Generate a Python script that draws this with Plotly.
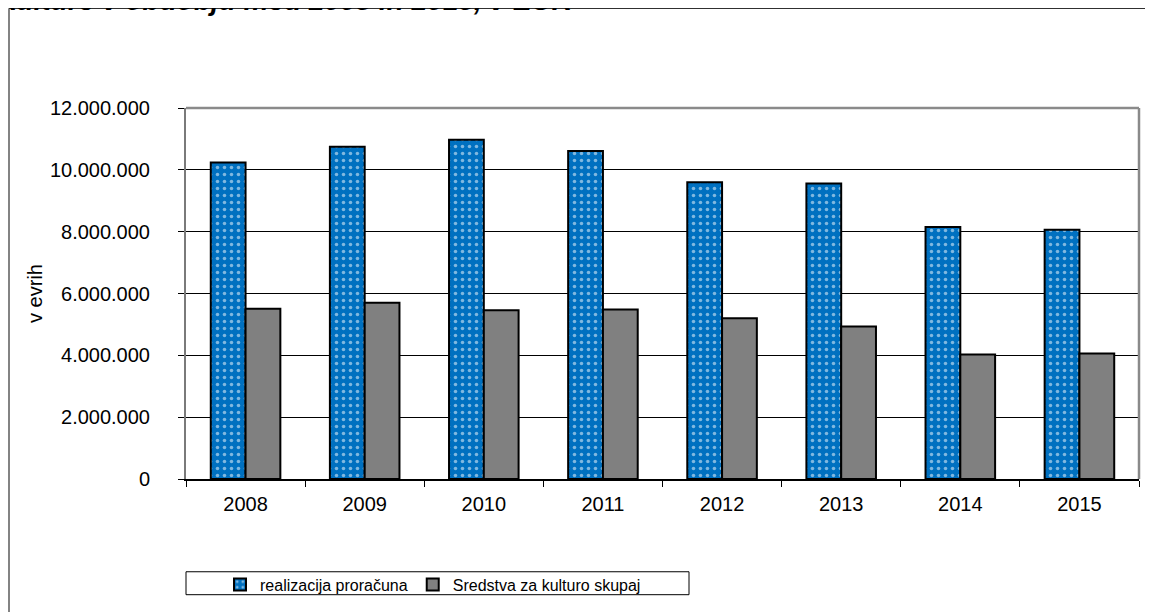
import plotly.graph_objects as go

years = ["2008", "2009", "2010", "2011", "2012", "2013", "2014", "2015"]
realizacija = [10240000, 10750000, 10970000, 10610000, 9600000, 9560000, 8150000, 8060000]
sredstva = [5510000, 5700000, 5460000, 5480000, 5200000, 4930000, 4030000, 4060000]
series_names = ["realizacija proračuna", "Sredstva za kulturo skupaj"]
y_ticks = [0, 2000000, 4000000, 6000000, 8000000, 10000000, 12000000]
title_text = "kulture v obdobju med 2008 in 2015, v EUR"
y_title = "v evrih"

# the page body has an 8px margin, so the figure starts at (8, 8) in the window
OFF = 8
WIN_W, WIN_H = 1153, 612
W, H = WIN_W - OFF, WIN_H - OFF
# target plot area in window pixels
PL, PR, PT, PB = 186, 1139, 108, 480
L, R, T, B = PL - OFF, WIN_W - PR, PT - OFF, WIN_H - PB
PW, PH = PR - PL, PB - PT


def px(x):
    # window pixel x -> paper fraction
    return (x - PL) / PW


def py(y):
    # window pixel y -> paper fraction
    return (PB - y) / PH


FONT = "Liberation Sans, Arial, sans-serif"

fig = go.Figure()
fig.add_trace(go.Bar(
    x=years, y=realizacija, name=series_names[0],
    marker=dict(color="#0070C0",
                line=dict(color="black", width=2),
                pattern=dict(shape=".", fgcolor="white", bgcolor="#0070C0",
                             size=7, solidity=0.2)),
))
fig.add_trace(go.Bar(
    x=years, y=sredstva, name=series_names[1],
    marker=dict(color="#808080", line=dict(color="black", width=2)),
))

shapes = [
    # outer chart frame
    dict(type="line", xref="paper", yref="paper", x0=px(9), x1=px(9), y0=py(8), y1=py(700),
         line=dict(color="#5a5a5a", width=1.5)),
    dict(type="line", xref="paper", yref="paper", x0=px(9), x1=px(1200), y0=py(8), y1=py(8),
         line=dict(color="#303030", width=1.5)),
    # plot area border (top & right)
    dict(type="line", xref="paper", yref="paper", x0=0, x1=1, y0=1, y1=1,
         line=dict(color="#8a8a8a", width=2.5)),
    dict(type="line", xref="paper", yref="paper", x0=1, x1=1, y0=0, y1=1,
         line=dict(color="#8a8a8a", width=2.5)),
    # legend box
    dict(type="rect", xref="paper", yref="paper", x0=px(186), x1=px(689), y0=py(573), y1=py(596),
         line=dict(color="black", width=1)),
]

fig.update_layout(
    width=W, height=H,
    margin=dict(l=L, r=R, t=T, b=B, pad=0),
    paper_bgcolor="white", plot_bgcolor="white",
    separators=",.",
    barmode="group", bargap=0.416, bargroupgap=0,
    font=dict(family=FONT, size=20, color="black"),
    showlegend=True,
    legend=dict(orientation="h", x=px(433), y=py(584.5), xanchor="center", yanchor="middle",
                font=dict(size=16, family=FONT), bgcolor="rgba(0,0,0,0)",
                borderwidth=0, itemwidth=30, traceorder="normal"),
    shapes=shapes,
    annotations=[
        dict(text="<b><i>" + title_text + "</i></b>", xref="paper", yref="paper",
             x=px(-1), y=py(18), xanchor="left", yanchor="bottom", showarrow=False,
             font=dict(size=28, family=FONT, color="black")),
    ],
)

fig.update_xaxes(
    type="category", showline=True, linecolor="black", linewidth=1.5,
    ticks="outside", ticklen=6, tickcolor="black", tickwidth=1, tickson="boundaries",
    tickfont=dict(size=20, family=FONT), showgrid=False, ticklabelstandoff=6,
)
fig.update_yaxes(
    range=[0, 12000000], tickvals=y_ticks, tickformat=",d",
    showline=True, linecolor="#7a7a7a", linewidth=2,
    ticks="outside", ticklen=6, tickcolor="black", tickwidth=1,
    showgrid=True, gridcolor="black", gridwidth=1, zeroline=False,
    tickfont=dict(size=20, family=FONT), ticklabelstandoff=24,
    title=dict(text=y_title, font=dict(size=20, family=FONT), standoff=2),
)

fig.write_html("out.html")
